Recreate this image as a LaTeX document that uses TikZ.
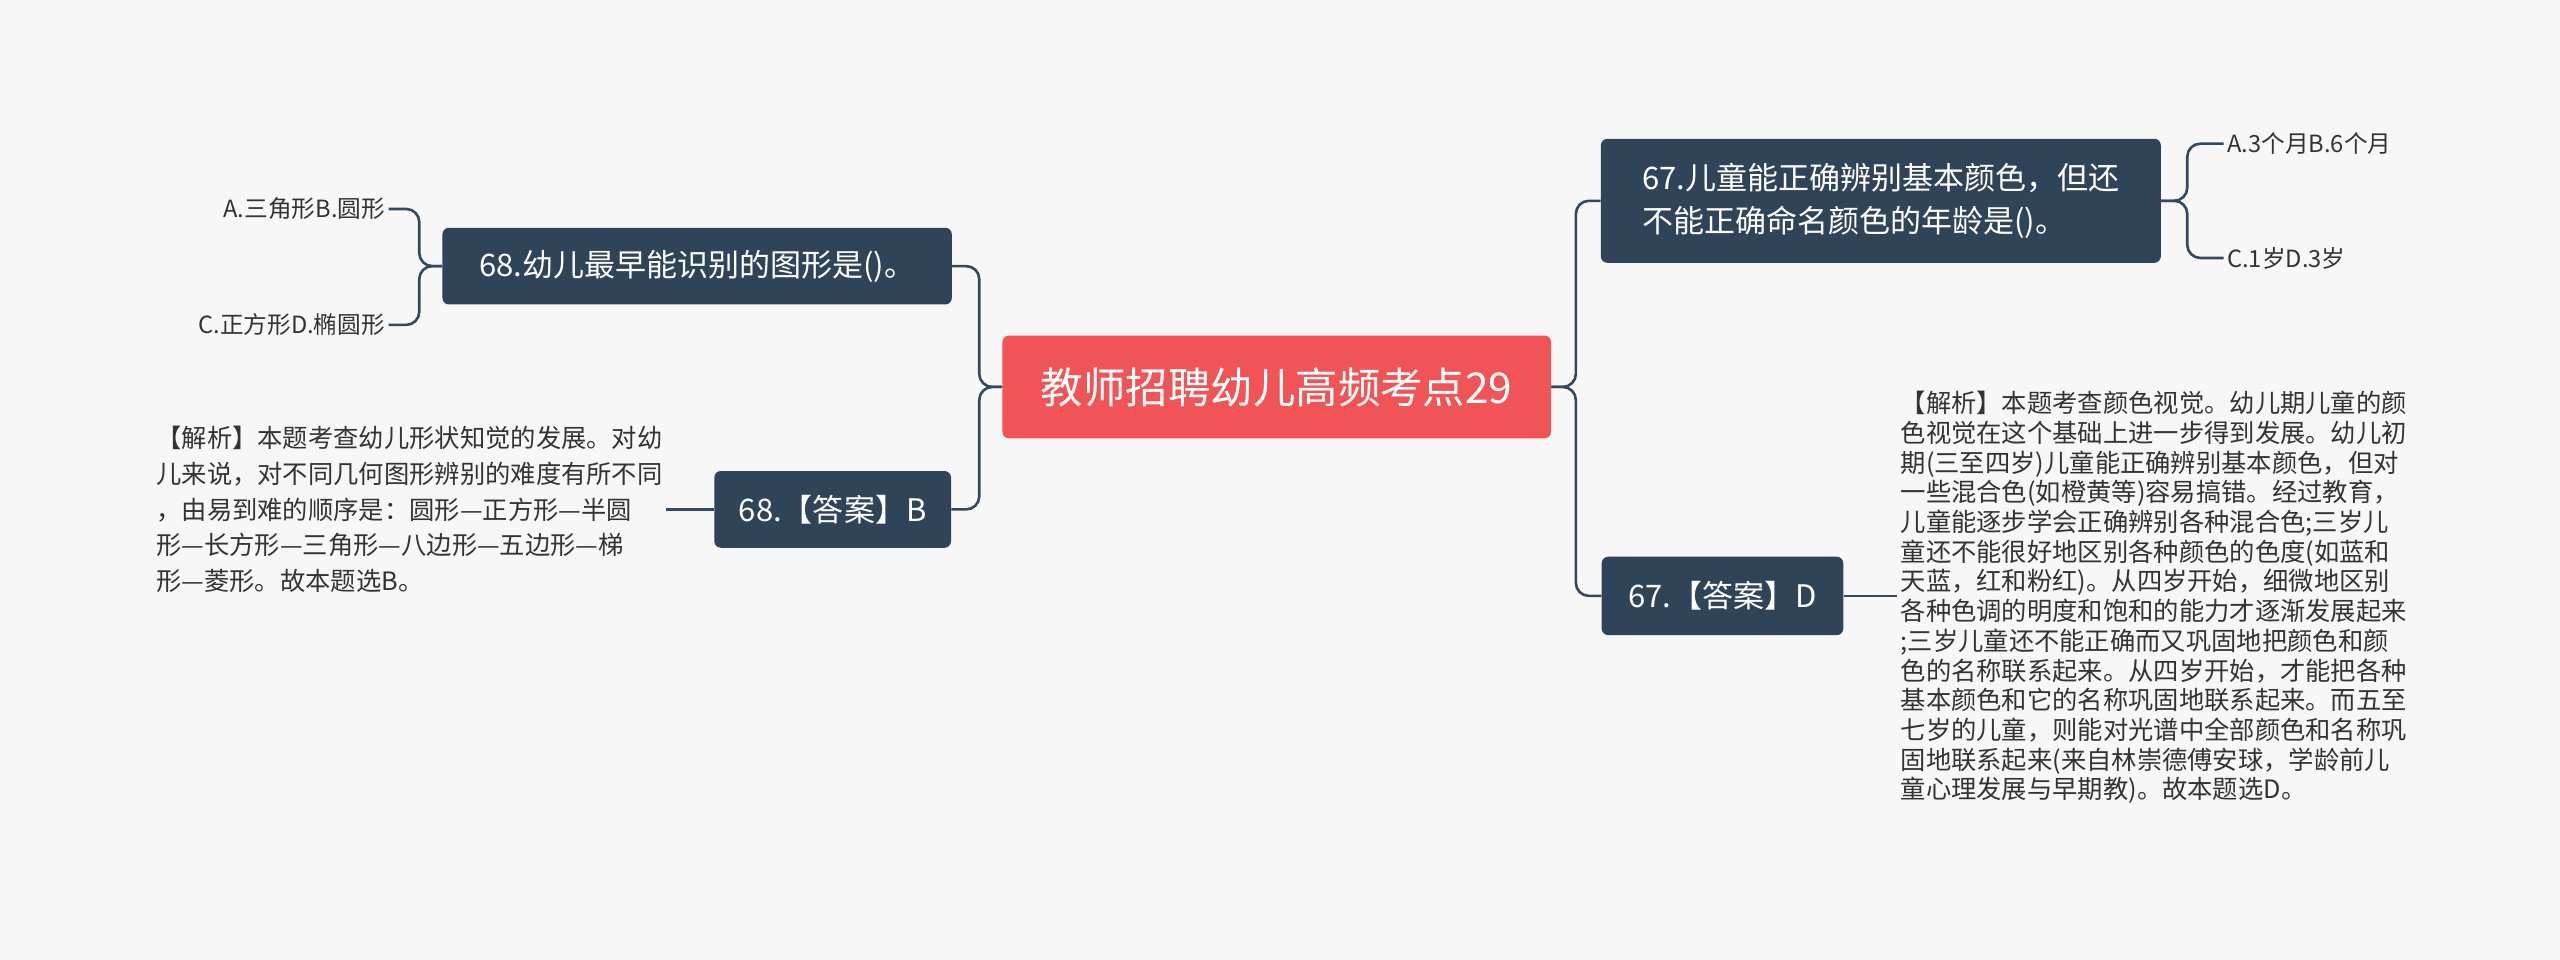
\documentclass[tikz,border=0pt]{standalone}
\usepackage{fontspec}
\setmainfont{Noto Sans CJK SC}
\usetikzlibrary{positioning}
\definecolor{bgc}{HTML}{F7F7F7}
\definecolor{rootc}{HTML}{F05456}
\definecolor{topicc}{HTML}{2F4459}
\definecolor{linec}{HTML}{34495E}
\definecolor{textc}{HTML}{333333}

\begin{document}
\begin{tikzpicture}[x=1pt, y=-1pt,
    root/.style={fill=rootc, text=white, rounded corners=4pt, minimum width=336pt, minimum height=63pt, font=\fontsize{26}{30}\selectfont},
    topic/.style={fill=topicc, text=white, rounded corners=4pt, inner xsep=10pt, font=\fontsize{19}{26}\selectfont, align=left},
    leaf/.style={text=textc, inner sep=2pt, font=\fontsize{14.5}{18}\selectfont},
    note/.style={text=textc, inner sep=2pt, align=left},
    link/.style={linec, line width=1.6pt, rounded corners=8pt}
]
    \fill[bgc] (0,0) rectangle (1568,588);
    \useasboundingbox (0,0) rectangle (1568,588);

    \node[root] (root) at (782,237) {教师招聘幼儿高频考点29};

    % left side
    \node[topic, minimum width=312pt, minimum height=47pt] (q68) at (427,163) {68.幼儿最早能识别的图形是()。};
    \node[topic, minimum width=145pt, minimum height=47pt] (a68) at (510,312) {68.【答案】B};
    \node[leaf, anchor=east] (l68a) at (238,128) {A.三角形B.圆形};
    \node[leaf, anchor=east] (l68b) at (238,199) {C.正方形D.椭圆形};
    \node[note, anchor=east, font=\fontsize{15.5}{22}\selectfont] (e68) at (408,312) {【解析】本题考查幼儿形状知觉的发展。对幼\\儿来说，对不同几何图形辨别的难度有所不同\\，由易到难的顺序是：圆形—正方形—半圆\\形—长方形—三角形—八边形—五边形—梯\\形—菱形。故本题选B。};

    % right side
    \node[topic, minimum width=343pt, minimum height=76pt] (q67) at (1152,123) {67.儿童能正确辨别基本颜色，但还\\不能正确命名颜色的年龄是()。};
    \node[topic, minimum width=148pt, minimum height=48pt] (a67) at (1055,365) {67.【答案】D};
    \node[leaf, anchor=west] (l67a) at (1362,88) {A.3个月B.6个月};
    \node[leaf, anchor=west] (l67b) at (1362,158) {C.1岁D.3岁};
    \node[note, anchor=west, font=\fontsize{15.5}{18.2}\selectfont] (e67) at (1162,366) {【解析】本题考查颜色视觉。幼儿期儿童的颜\\色视觉在这个基础上进一步得到发展。幼儿初\\期(三至四岁)儿童能正确辨别基本颜色，但对\\一些混合色(如橙黄等)容易搞错。经过教育，\\儿童能逐步学会正确辨别各种混合色;三岁儿\\童还不能很好地区别各种颜色的色度(如蓝和\\天蓝，红和粉红)。从四岁开始，细微地区别\\各种色调的明度和饱和的能力才逐渐发展起来\\;三岁儿童还不能正确而又巩固地把颜色和颜\\色的名称联系起来。从四岁开始，才能把各种\\基本颜色和它的名称巩固地联系起来。而五至\\七岁的儿童，则能对光谱中全部颜色和名称巩\\固地联系起来(来自林崇德傅安球，学龄前儿\\童心理发展与早期教)。故本题选D。};

    % connectors
    \draw[link] (root.west) -- ++(-14,0) |- (q68.east);
    \draw[link] (root.west) -- ++(-14,0) |- (a68.east);
    \draw[link] (root.east) -- ++(15,0) |- (q67.west);
    \draw[link] (root.east) -- ++(15,0) |- (a67.west);
    \draw[link] (q68.west) -- ++(-14,0) |- (l68a.east);
    \draw[link] (q68.west) -- ++(-14,0) |- (l68b.east);
    \draw[link] (q67.east) -- ++(16,0) |- (l67a.west);
    \draw[link] (q67.east) -- ++(16,0) |- (l67b.west);
    \draw[link] (a68.west) -- (e68.east);
    \draw[link] (a67.east) -- (e67.west |- a67.east);
\end{tikzpicture}
\end{document}
